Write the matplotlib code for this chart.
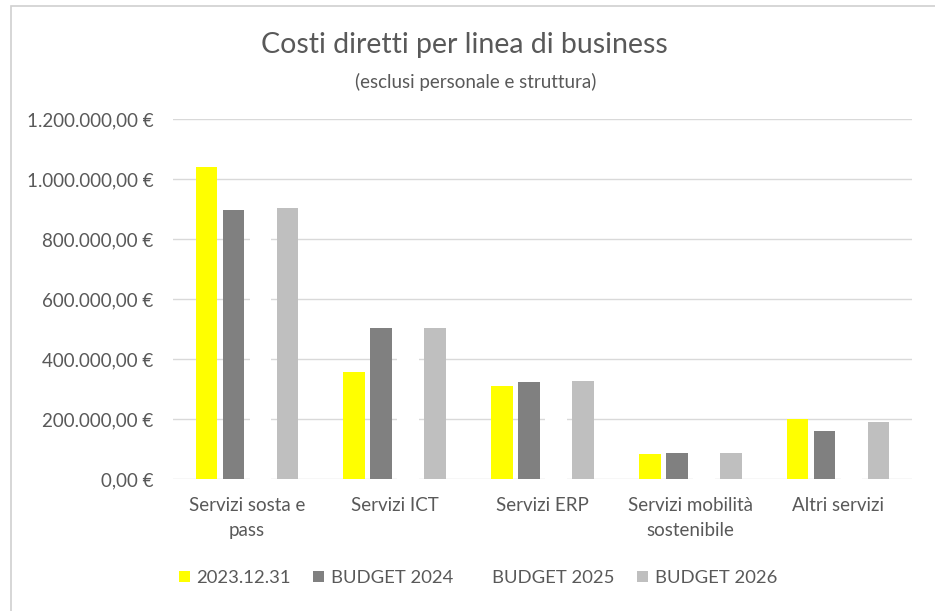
import numpy as np
import matplotlib.pyplot as plt
from matplotlib.patches import Rectangle
from matplotlib.ticker import FuncFormatter

plt.rcParams['font.family'] = ['Lato', 'DejaVu Sans']

categories = ["Servizi sosta e\npass", "Servizi ICT", "Servizi ERP",
              "Servizi mobilità\nsostenibile", "Altri servizi"]
series_names = ["2023.12.31", "BUDGET 2024", "BUDGET 2025", "BUDGET 2026"]
v2023 = [1040000, 357000, 310000, 83000, 199000]
v2024 = [897000, 503000, 323000, 87000, 160000]
v2025 = [903000, 503000, 327000, 87000, 190000]   # drawn in white
v2026 = [903000, 503000, 327000, 87000, 190000]
colors = ["#FFFF00", "#808080", "#FFFFFF", "#BFBFBF"]

txt = "#595959"

fig = plt.figure(figsize=(9.35, 6.11), dpi=100)
ax = fig.add_axes([173/935, 1-479/611, 739/935, 360/611])

x = np.arange(len(categories))
slot = 0.183
w = 0.146
for i, (vals, name, c) in enumerate(zip([v2023, v2024, v2025, v2026], series_names, colors)):
    ax.bar(x + (i - 1.5) * slot, vals, width=w, color=c, label=name, zorder=3)

ax.set_xlim(-0.5, len(categories) - 0.5)
ax.set_ylim(0, 1200000)
ax.set_yticks(np.arange(0, 1200001, 200000))

def eur(v, pos):
    s = f"{v:,.2f}".replace(",", "X").replace(".", ",").replace("X", ".")
    return s + " €"

ax.yaxis.set_major_formatter(FuncFormatter(eur))
ax.grid(axis='y', color='#D9D9D9', linewidth=1, zorder=0)
ax.set_axisbelow(True)
for s in ax.spines.values():
    s.set_visible(False)
ax.tick_params(axis='y', length=0, pad=14, labelsize=13.5, labelcolor=txt)
ax.tick_params(axis='x', length=0, pad=13, labelsize=13.5, labelcolor=txt)
ax.set_xticks(x)
ax.set_xticklabels(categories, linespacing=1.6)

fig.text(0.497, 1-45/611, "Costi diretti per linea di business", ha='center', va='center',
         fontsize=20.5, color=txt)
fig.text(0.509, 1-82/611, "(esclusi personale e struttura)", ha='center', va='center',
         fontsize=13.5, color=txt)

leg = fig.legend(loc='center', bbox_to_anchor=(0.511, 1-578/611), ncol=4, frameon=False,
                 fontsize=13.3, handlelength=0.6, handleheight=0.6, handletextpad=0.35,
                 columnspacing=1.2, labelcolor=txt)

fig.patches.append(Rectangle((10.5/935, -0.1), 2, 1.1 - 5.5/611, transform=fig.transFigure,
                             fill=False, edgecolor='#D0D0D0', linewidth=1.2))

fig.savefig("out.png", dpi=100)
